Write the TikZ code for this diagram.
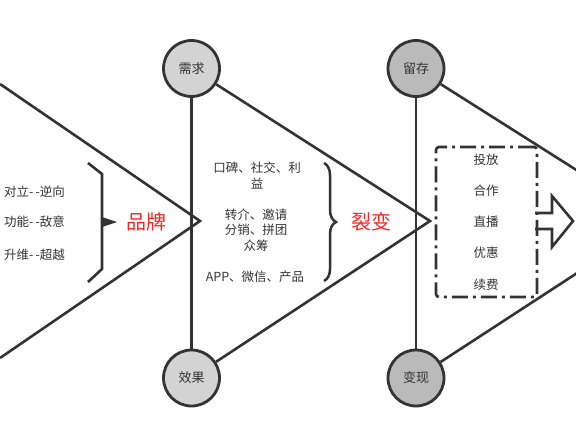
\documentclass[tikz,border=0pt]{standalone}
\usepackage{fontspec}
\setmainfont{Noto Sans CJK SC}
\usetikzlibrary{decorations.pathreplacing}
\definecolor{linegray}{HTML}{333333}
\definecolor{lightfill}{HTML}{D3D3D3}
\definecolor{darkfill}{HTML}{BABABA}
\definecolor{titlered}{HTML}{FF2222}
\tikzset{
  stage/.style={circle, draw=linegray, line width=2.8pt, minimum size=56pt, inner sep=0pt,
    text=linegray, font=\fontsize{13}{15}\selectfont},
  item/.style={text=linegray, align=center, inner sep=1pt, font=\fontsize{12.5}{15.5}\selectfont},
  title/.style={text=titlered, font=\fontsize{20}{24}\selectfont},
}
\begin{document}
\begin{tikzpicture}[x=1pt,y=1pt]
      \useasboundingbox (0,0) rectangle (576,432);
      \node[stage, fill=lightfill] (demand) at (191.5,363.5) {需求};
      \node[stage, fill=lightfill] (result) at (191.5,54) {效果};
      \node[stage, fill=darkfill] (retain) at (416,363.5) {留存};
      \node[stage, fill=darkfill] (cash) at (416,54) {变现};
      \coordinate (in1) at (0,348);
      \coordinate (in2) at (0,74);
      \coordinate (tip1) at (200,211);
      \coordinate (tip2) at (430,211);
      \coordinate (tip3) at (657,211);
      \begin{scope}[line width=2.6pt, linegray, line join=miter]
        \draw (in1) -- (tip1) -- (in2);
        \draw (demand) -- (tip2) -- (result);
        \draw (retain) -- (tip3) -- (cash);
        \draw (demand) -- (result);
        \draw (retain) -- (cash);
      \end{scope}
      \node[item, anchor=west] (oppose) at (3,240) {对立-\,-逆向};
      \node[item, anchor=west] (func) at (3,210) {功能-\,-敌意};
      \node[item, anchor=west] (upgrade) at (3,177) {升维-\,-超越};
      \draw[line width=2.6pt, linegray] (88,269) -- (102,258) -- (102,163) -- (88,150);
      \fill[linegray] (102,215) -- (117,210) -- (102,205) -- cycle;
      \node[title] (brand) at (146,210) {品牌};
      \node[item] (word) at (257,256.5) {口碑、社交、利\\益};
      \node[item] (share) at (256,202) {转介、邀请\\分销、拼团\\众筹};
      \node[item] (channel) at (255,155) {APP、微信、产品};
      \draw[line width=2.5pt, linegray, decorate, decoration={brace, amplitude=12pt}]
        (324,269) -- (324,151);
      \node[title] (fission) at (371,210) {裂变};
      \node[draw=linegray, line width=2.6pt, rounded corners=3pt,
        dash pattern=on 16pt off 5pt on 3pt off 5pt,
        minimum width=101pt, minimum height=150pt] (plan) at (486.5,210) {};
      \foreach \t [count=\i] in {投放,合作,直播,优惠,续费}
        \node[item] (act\i) at (486,272.5-31.25*\i+31.25) {\t};
      \draw[line width=2.6pt, linegray, line join=miter]
        (535,219) -- (552,219) -- (552,236) -- (573,211) -- (552,185) -- (552,203) -- (535,203);
    \end{tikzpicture}
\end{document}
